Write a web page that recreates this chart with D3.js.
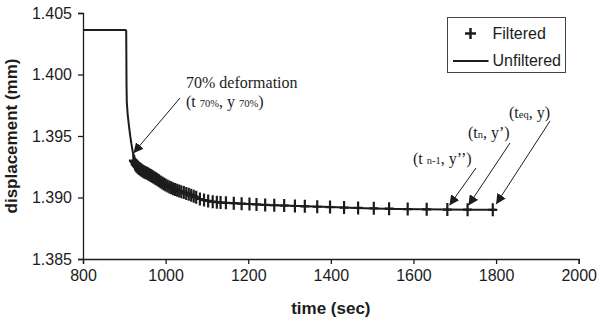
<!DOCTYPE html>
<html><head><meta charset="utf-8">
<script src="https://cdn.jsdelivr.net/npm/d3@7"></script>
<style>body{margin:0;background:#fff}svg{display:block}</style>
</head><body>
<svg id="c" width="600" height="322"></svg>
<script>
// ---- data ----
const xTicks = [800, 1000, 1200, 1400, 1600, 1800, 2000];
const yTicks = [1.385, 1.390, 1.395, 1.400, 1.405];

const unfilteredTime = [800, 903, 904.6, 905.4, 906, 908, 911, 914, 917, 920, 924, 928, 932, 938, 946, 954, 962, 970, 980, 990, 1000, 1012, 1024, 1036, 1050, 1066, 1083, 1100, 1120, 1140, 1165, 1200, 1240, 1290, 1340, 1400, 1460, 1505, 1560, 1620, 1680, 1740, 1800];
const unfilteredDisp = [1.40362, 1.40362, 1.40355, 1.3990, 1.3978, 1.3968, 1.3959, 1.3951, 1.3944, 1.3938, 1.3931, 1.39262, 1.39248, 1.39231, 1.39212, 1.39200, 1.39183, 1.39166, 1.39141, 1.39120, 1.39102, 1.39081, 1.39064, 1.39050, 1.39033, 1.39012, 1.38988, 1.38974, 1.38964, 1.38958, 1.38954, 1.38948, 1.38940, 1.38934, 1.38928, 1.38922, 1.38915, 1.38911, 1.38907, 1.38904, 1.38902, 1.38901, 1.38900];

const filteredTime = [922, 924, 926, 928, 930, 932, 934, 936, 938, 940, 942, 944.5, 947, 949.5, 952, 955, 958, 961, 964, 967, 970, 973.5, 977, 980.5, 984, 988, 992, 996, 1000, 1004.5, 1009, 1013.5, 1018, 1023, 1028, 1033, 1038, 1044, 1050, 1056, 1062, 1068, 1074, 1083, 1093, 1103, 1114, 1124, 1133, 1146, 1165, 1184, 1203, 1220, 1241, 1263, 1287, 1313, 1337, 1367, 1398, 1432, 1466, 1504, 1541, 1586, 1632, 1682, 1731, 1792];
const filteredDisp = [1.39300, 1.39290, 1.39272, 1.39262, 1.39255, 1.39248, 1.39242, 1.39236, 1.39231, 1.39226, 1.39221, 1.39215, 1.39210, 1.39206, 1.39202, 1.39197, 1.39191, 1.39185, 1.39178, 1.39172, 1.39166, 1.39159, 1.39152, 1.39145, 1.39137, 1.39127, 1.39118, 1.39110, 1.39102, 1.39093, 1.39086, 1.39079, 1.39072, 1.39065, 1.39059, 1.39053, 1.39047, 1.39040, 1.39033, 1.39026, 1.39018, 1.39010, 1.39002, 1.38988, 1.38979, 1.38972, 1.38966, 1.38962, 1.38959, 1.38957, 1.38954, 1.38950, 1.38947, 1.38944, 1.38940, 1.38937, 1.38934, 1.38931, 1.38928, 1.38925, 1.38922, 1.38918, 1.38915, 1.38912, 1.38909, 1.38906, 1.38904, 1.38902, 1.38901, 1.38900];

// ---- drawing ----
const svg = d3.select("#c");
const ink = "#1c1c1c";
const x = d3.scaleLinear().domain([800, 2000]).range([83, 578.7]);
const y = d3.scaleLinear().domain([1.385, 1.405]).range([259, 13]);

const xAxis = svg.append("g").attr("transform", `translate(0,${y(1.385)})`)
  .call(d3.axisBottom(x).tickValues(xTicks).tickSize(5).tickPadding(6).tickFormat(d3.format("d")));
const yAxis = svg.append("g").attr("transform", `translate(${x(800)},0)`)
  .call(d3.axisLeft(y).tickValues(yTicks).tickSize(5).tickPadding(6).tickFormat(d3.format(".3f")));
[xAxis, yAxis].forEach(g => {
  g.selectAll("path,line").attr("stroke", ink).attr("stroke-width", 1.3);
  g.selectAll("text").attr("fill", ink).attr("font-family", "Liberation Sans, Arial, sans-serif").attr("font-size", 16);
});

svg.append("text").attr("x", x(1400)).attr("y", 314).attr("text-anchor", "middle")
  .attr("font-family", "Liberation Sans, Arial, sans-serif").attr("font-weight", "bold").attr("font-size", 17)
  .attr("fill", ink).text("time (sec)");
svg.append("text").attr("transform", `translate(17,${y(1.395)}) rotate(-90)`).attr("text-anchor", "middle")
  .attr("font-family", "Liberation Sans, Arial, sans-serif").attr("font-weight", "bold").attr("font-size", 17)
  .attr("fill", ink).text("displacement (mm)");

// unfiltered line
const line = d3.line().x(d => x(d[0])).y(d => y(d[1]));
svg.append("path").datum(unfilteredTime.map((t, i) => [t, unfilteredDisp[i]]))
  .attr("d", line).attr("fill", "none").attr("stroke", ink).attr("stroke-width", 2);

// filtered markers
const mk = svg.append("g");
filteredTime.forEach((t, i) => {
  const cx = x(t), cy = y(filteredDisp[i]);
  mk.append("path").attr("d", `M${cx - 4.5},${cy}H${cx + 4.5}M${cx},${cy - 6.5}V${cy + 6.5}`)
    .attr("stroke", ink).attr("stroke-width", 2.2).attr("fill", "none");
});

// arrowhead marker
svg.append("defs").append("marker").attr("id", "ah").attr("viewBox", "0 0 10 10")
  .attr("refX", 10).attr("refY", 5).attr("markerWidth", 10).attr("markerHeight", 10)
  .attr("markerUnits", "userSpaceOnUse").attr("orient", "auto")
  .append("path").attr("d", "M0,0L10,5L0,10Z").attr("fill", ink);

const serif = "Liberation Serif, Times New Roman, serif";
function rich(xp, yp, parts) {
  const t = svg.append("text").attr("x", xp).attr("y", yp).attr("font-family", serif).attr("fill", ink);
  parts.forEach(p => t.append("tspan").attr("font-size", p[1]).text(p[0]));
  return t;
}
rich(186, 88, [["70% deformation", 16]]);
rich(186, 107, [["(t ", 16], ["70%", 10.5], [", y ", 16], ["70%", 10.5], [")", 16]]);
rich(413, 164, [["(t ", 16], ["n-1", 10.5], [", y’’)", 16]]);
rich(468, 138, [["(t", 16], ["n", 10.5], [", y’)", 16]]);
rich(509, 118, [["(t", 16], ["eq", 10.5], [", y)", 16]]);

const arrows = [
  [[180, 98], [x(922), y(1.3932)]],
  [[476, 168], [x(1687), y(1.38895)]],
  [[510, 143], [x(1733), y(1.38895)]],
  [[550, 121], [x(1800), y(1.38905)]],
];
arrows.forEach(a => {
  svg.append("line").attr("x1", a[0][0]).attr("y1", a[0][1]).attr("x2", a[1][0]).attr("y2", a[1][1] - 5)
    .attr("stroke", ink).attr("stroke-width", 1).attr("marker-end", "url(#ah)");
});

// legend
const lg = svg.append("g");
lg.append("rect").attr("x", 447.5).attr("y", 17.5).attr("width", 118).attr("height", 55)
  .attr("fill", "#fff").attr("stroke", "#444").attr("stroke-width", 1);
lg.append("path").attr("d", "M465,33.5H476M470.5,28V39").attr("stroke", ink).attr("stroke-width", 2.5);
lg.append("line").attr("x1", 453).attr("x2", 488.5).attr("y1", 61).attr("y2", 61).attr("stroke", ink).attr("stroke-width", 2);
lg.append("text").attr("x", 492.5).attr("y", 38.5).attr("font-family", "Liberation Sans, Arial, sans-serif")
  .attr("font-size", 16).attr("fill", ink).text("Filtered");
lg.append("text").attr("x", 492.5).attr("y", 66).attr("font-family", "Liberation Sans, Arial, sans-serif")
  .attr("font-size", 16).attr("fill", ink).text("Unfiltered");
</script>
</body></html>
